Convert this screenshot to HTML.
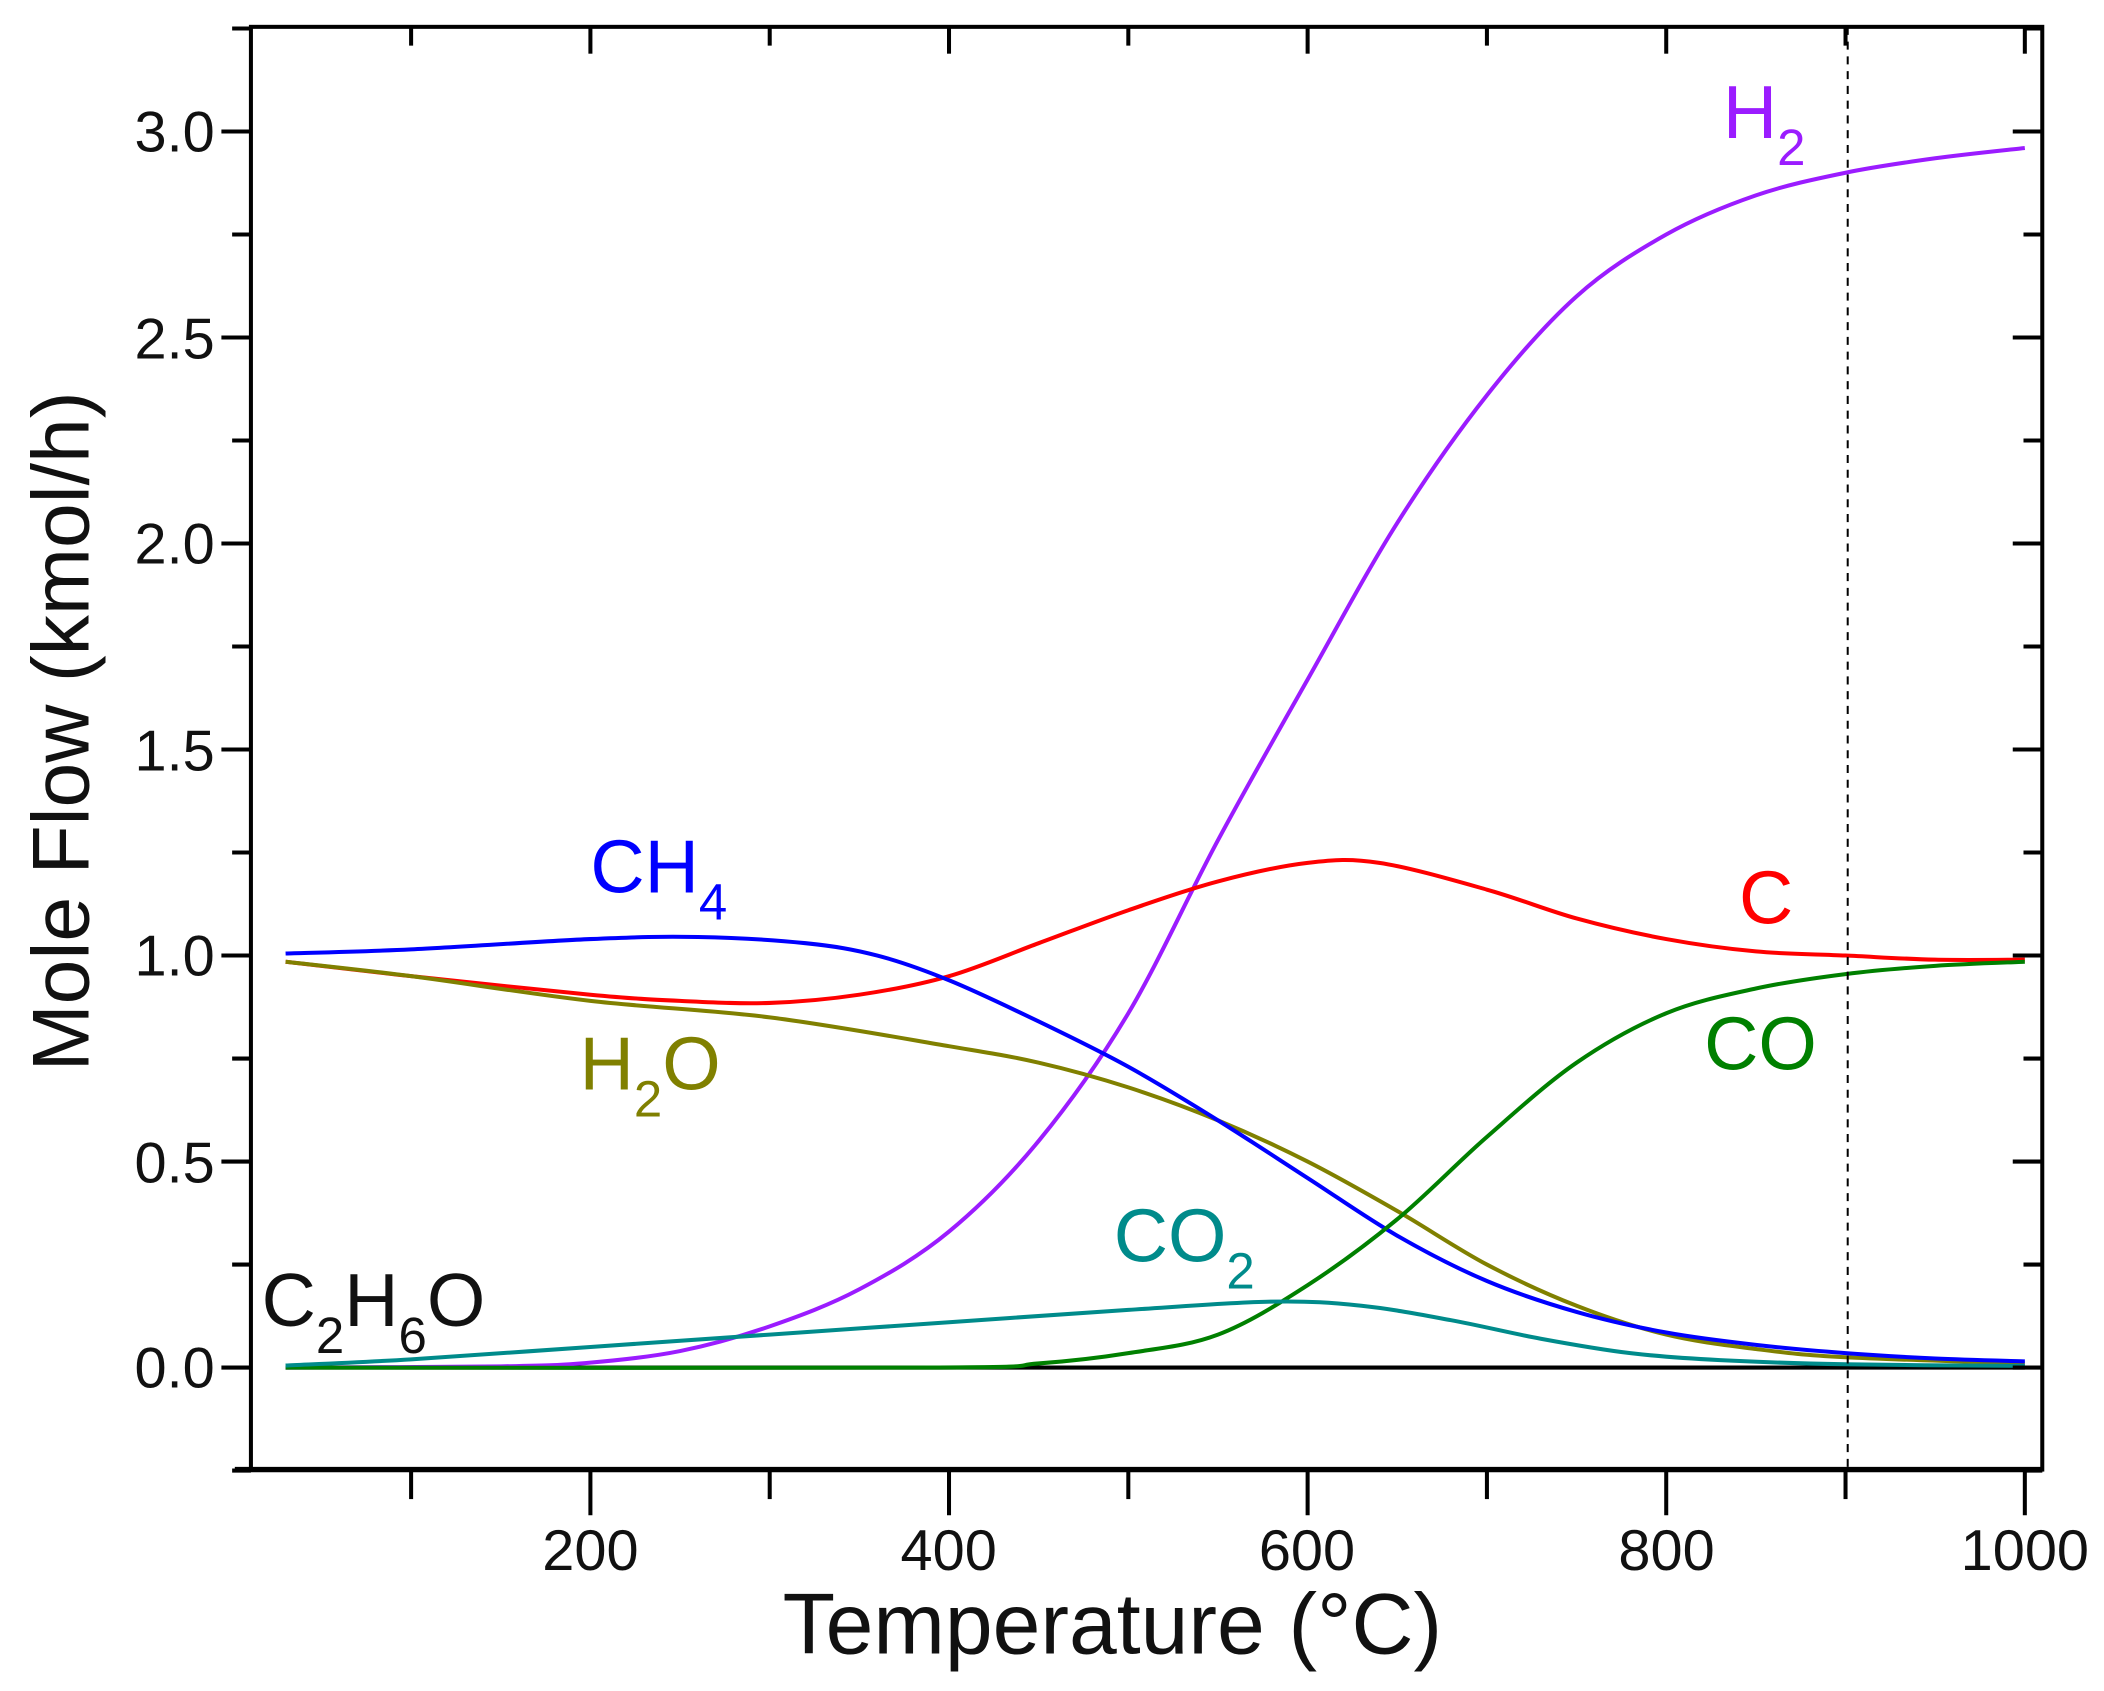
<!DOCTYPE html>
<html><head><meta charset="utf-8"><style>
html,body{margin:0;padding:0;background:#fff;}
svg{display:block;}
text{font-family:"Liberation Sans",Arial,sans-serif;}
</style></head><body>
<svg id="s" width="2104" height="1691" viewBox="0 0 1568 1260" preserveAspectRatio="none" xmlns="http://www.w3.org/2000/svg">
<g id="plot"></g>
<line x1="1377" y1="20" x2="1377" y2="1095" stroke="#000" stroke-width="1.5" stroke-dasharray="6,5"/>
<rect x="187" y="20" width="1335" height="1075" fill="none" stroke="#000" stroke-width="3"/>
<line x1="175" y1="1095" x2="1522" y2="1095" stroke="#000" stroke-width="4"/>
<g id="ticks" stroke="#000" stroke-width="3"></g>
<g font-size="43" fill="#111">
<text x="440" y="1170" text-anchor="middle">200</text>
<text x="707" y="1170" text-anchor="middle">400</text>
<text x="974" y="1170" text-anchor="middle">600</text>
<text x="1242" y="1170" text-anchor="middle">800</text>
<text x="1509" y="1170" text-anchor="middle">1000</text>
<text x="160" y="113" text-anchor="end">3.0</text>
<text x="160" y="267" text-anchor="end">2.5</text>
<text x="160" y="420" text-anchor="end">2.0</text>
<text x="160" y="574" text-anchor="end">1.5</text>
<text x="160" y="727" text-anchor="end">1.0</text>
<text x="160" y="881" text-anchor="end">0.5</text>
<text x="160" y="1034" text-anchor="end">0.0</text>
</g>
<text x="829" y="1232" font-size="64" text-anchor="middle" fill="#111">Temperature (°C)</text>
<text transform="translate(66,545) rotate(-90)" font-size="60" text-anchor="middle" fill="#111">Mole Flow (kmol/h)</text>
<g font-size="56">
<text x="1284" y="103" fill="#9b1cff">H<tspan font-size="38" dy="20">2</tspan></text>
<text x="440" y="665" fill="#0000ff">CH<tspan font-size="38" dy="20">4</tspan></text>
<text x="1296" y="688" fill="#ff0000">C</text>
<text x="432" y="812" fill="#808000">H<tspan font-size="38" dy="20">2</tspan><tspan dy="-20">O</tspan></text>
<text x="1270" y="797" fill="#008000">CO</text>
<text x="830" y="940" fill="#008b8b">CO<tspan font-size="38" dy="20">2</tspan></text>
<text x="195" y="988" fill="#111">C<tspan font-size="38" dy="20">2</tspan><tspan dy="-20">H</tspan><tspan font-size="38" dy="20">6</tspan><tspan dy="-20">O</tspan></text>
</g>
</svg>
<script>
var X=function(t){return 440+(t-200)*1069/800;};
var Y=function(v){return 1019-v*307;};
var ns="http://www.w3.org/2000/svg";
var series=[
["#000",[[30,0],[1000,0]]],
["#9b1cff",[[30,0],[150,0.003],[200,0.012],[250,0.04],[300,0.1],[350,0.19],[400,0.33],[450,0.55],[500,0.86],[550,1.28],[600,1.67],[650,2.05],[700,2.36],[750,2.6],[800,2.75],[850,2.845],[900,2.9],[950,2.935],[1000,2.96]]],
["#ff0000",[[30,0.985],[100,0.95],[200,0.905],[250,0.89],[300,0.885],[350,0.905],[400,0.95],[450,1.03],[500,1.11],[550,1.18],[600,1.225],[640,1.225],[700,1.16],[750,1.09],[800,1.04],[850,1.01],[900,1.0],[950,0.99],[1000,0.99]]],
["#808000",[[30,0.985],[100,0.95],[200,0.89],[300,0.85],[400,0.78],[450,0.74],[500,0.68],[550,0.6],[600,0.5],[650,0.38],[700,0.25],[750,0.15],[800,0.08],[850,0.045],[900,0.025],[1000,0.01]]],
["#0000ff",[[30,1.005],[100,1.015],[200,1.04],[260,1.045],[320,1.03],[360,1.0],[400,0.94],[450,0.84],[500,0.73],[550,0.6],[600,0.46],[650,0.32],[700,0.21],[750,0.135],[800,0.085],[850,0.055],[900,0.035],[950,0.022],[1000,0.015]]],
["#008000",[[30,0],[390,0],[450,0.01],[500,0.035],[550,0.08],[600,0.2],[650,0.36],[700,0.56],[750,0.74],[800,0.86],[850,0.92],[900,0.955],[950,0.975],[1000,0.985]]],
["#008b8b",[[30,0.005],[100,0.02],[200,0.05],[300,0.08],[400,0.11],[500,0.14],[580,0.16],[630,0.15],[680,0.115],[730,0.07],[780,0.035],[830,0.018],[900,0.008],[1000,0.004]]]
];
var g=document.getElementById("plot");
series.forEach(function(s){
 var p=s[1].map(function(a){return [X(a[0]),Y(a[1])];});
 var d="M"+p[0][0]+","+p[0][1];
 for(var i=0;i<p.length-1;i++){
  var p0=p[i-1]||p[i],p1=p[i],p2=p[i+1],p3=p[i+2]||p2;
  var c1=[p1[0]+(p2[0]-p0[0])/6,p1[1]+(p2[1]-p0[1])/6];
  var c2=[p2[0]-(p3[0]-p1[0])/6,p2[1]-(p3[1]-p1[1])/6];
  d+=" C"+c1+" "+c2+" "+p2;
 }
 var e=document.createElementNS(ns,"path");
 e.setAttribute("d",d);e.setAttribute("fill","none");e.setAttribute("stroke",s[0]);e.setAttribute("stroke-width","3");
 g.appendChild(e);
});
var t=document.getElementById("ticks");
function L(a,b,c,d){var e=document.createElementNS(ns,"line");e.setAttribute("x1",a);e.setAttribute("y1",b);e.setAttribute("x2",c);e.setAttribute("y2",d);t.appendChild(e);}
for(var v=100;v<=1000;v+=100){var x=X(v),maj=v%200==0;L(x,1095,x,1095+(maj?34:22));L(x,20,x,20+(maj?20:14));}
for(var k=-0.25;k<=3.26;k+=0.25){var y=Y(k),maj=Math.abs(k*2-Math.round(k*2))<0.01;L(187,y,187-(maj?22:14),y);L(1522,y,1522-(maj?22:14),y);}
</script>
</body></html>
